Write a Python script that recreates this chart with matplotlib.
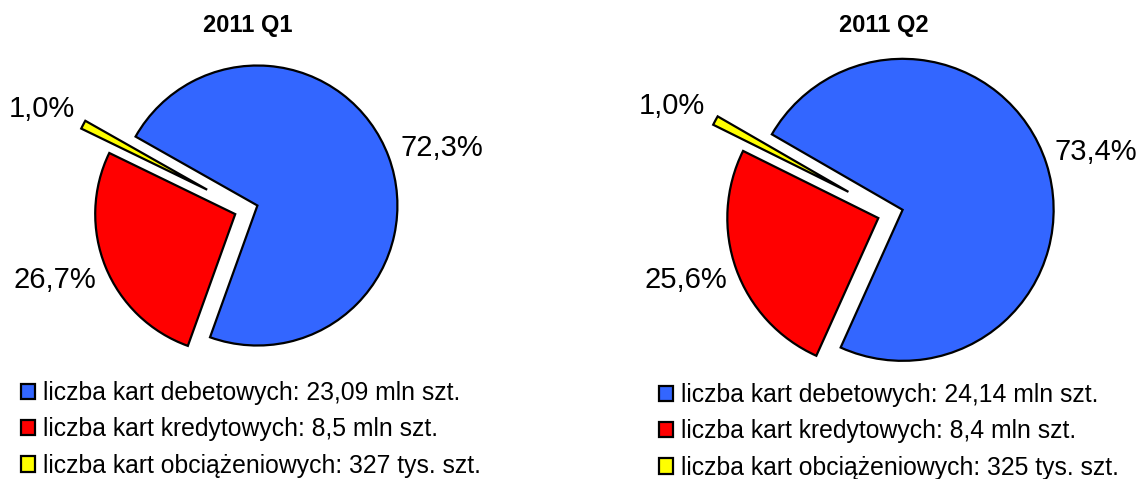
import matplotlib
matplotlib.use("Agg")
import matplotlib.pyplot as plt

plt.rcParams['font.family'] = ['Liberation Sans', 'DejaVu Sans']

# ---- data ----
titles = ["2011 Q1", "2011 Q2"]
shares_q1 = [72.3, 26.7, 1.0]
shares_q2 = [73.4, 25.6, 1.0]
legend_q1 = ["liczba kart debetowych: 23,09 mln szt.",
             "liczba kart kredytowych: 8,5 mln szt.",
             "liczba kart obciążeniowych: 327 tys. szt."]
legend_q2 = ["liczba kart debetowych: 24,14 mln szt.",
             "liczba kart kredytowych: 8,4 mln szt.",
             "liczba kart obciążeniowych: 325 tys. szt."]

# ---- style / layout ----
colors = ["#3366FF", "#FF0000", "#FFFF00"]
explode = [0.09, 0.08, 0.31]
W, H = 1138, 479
fig = plt.figure(figsize=(W / 100, H / 100), dpi=100)

panels = [
    dict(x0=0, x1=569, C=(245.6, 209.9), r=140, start=150.5,
         title_x=247.5,
         label_px=[(441.5, 156), (55, 288), (41.5, 117)],
         legend_xy=(21, 381)),
    dict(x0=569, x1=1138, C=(889.7, 214.0), r=151, start=150.0,
         title_x=883.5,
         label_px=[(1095.5, 160), (685.5, 288), (672, 114)],
         legend_xy=(659, 383)),
]
data = [(shares_q1, legend_q1), (shares_q2, legend_q2)]


def fmt(v):
    return f"{v:.1f}%".replace(".", ",")


for p, (vals, leg), title in zip(panels, data, titles):
    Cx, Cy = p["C"]
    r = p["r"]
    ax = fig.add_axes([p["x0"] / W, 0, (p["x1"] - p["x0"]) / W, 1])
    wedges, _ = ax.pie(vals, explode=explode, colors=colors,
                       startangle=p["start"], counterclock=False,
                       wedgeprops=dict(edgecolor="black", linewidth=1.6,
                                       joinstyle="miter"))
    ax.set_aspect("auto")
    ax.set_xlim((p["x0"] - Cx) / r, (p["x1"] - Cx) / r)
    ax.set_ylim((Cy - H) / r, Cy / r)
    ax.axis("off")
    for v, (px, py) in zip(vals, p["label_px"]):
        ax.text((px - Cx) / r, (Cy - py) / r, fmt(v), ha="center",
                va="baseline", fontsize=21, color="black")
    fig.text(p["title_x"] / W, 1 - 32 / H, title, ha="center",
             va="baseline", fontsize=17, fontweight="bold")
    lx, ly = p["legend_xy"]
    fig.legend(wedges, leg, loc="upper left",
               bbox_to_anchor=(lx / W, 1 - ly / H), frameon=False,
               fontsize=17.8, borderpad=0, borderaxespad=0,
               handlelength=0.58, handleheight=0.58, handletextpad=0.3,
               labelspacing=0.5)

fig.savefig("out.png", dpi=100)
